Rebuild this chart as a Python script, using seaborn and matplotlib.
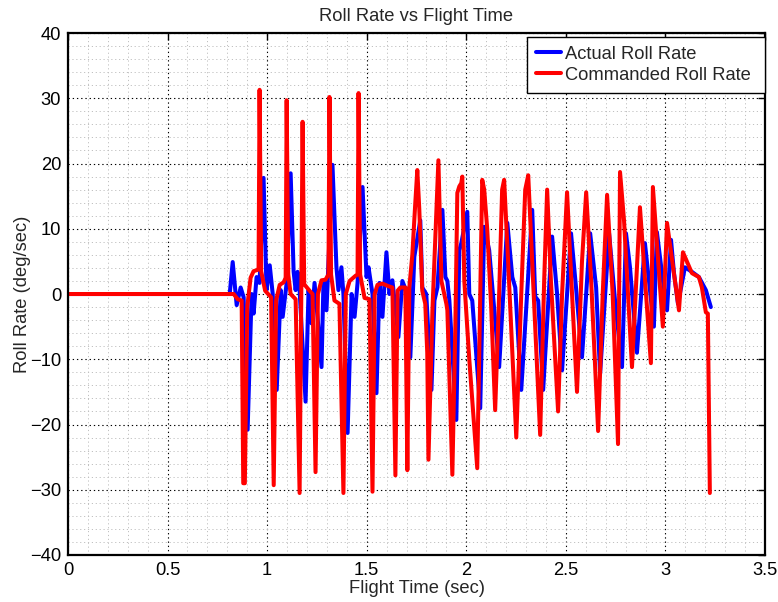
import matplotlib
matplotlib.use("Agg")
import matplotlib.pyplot as plt
from matplotlib.ticker import MultipleLocator, FixedLocator
import numpy as np
import pandas as pd
import seaborn as sns

# Commanded roll rate (deg/sec) against flight time (sec)
cmd_time = [0.0, 0.832, 0.852, 0.872, 0.880, 0.888, 0.900, 0.917, 0.932, 0.952,
            0.957, 0.962, 0.970, 0.990, 1.020, 1.033, 1.045, 1.063, 1.083, 1.093,
            1.098, 1.106, 1.118, 1.143, 1.163, 1.171, 1.178, 1.186, 1.213, 1.228,
            1.243, 1.255, 1.273, 1.293, 1.308, 1.313, 1.321, 1.338, 1.363, 1.383,
            1.395, 1.414, 1.444, 1.454, 1.459, 1.467, 1.489, 1.514, 1.529, 1.540,
            1.554, 1.579, 1.609, 1.629, 1.644, 1.655, 1.669, 1.694, 1.704, 1.714,
            1.729, 1.744, 1.754, 1.764, 1.779, 1.794, 1.804, 1.810, 1.830, 1.850,
            1.860, 1.875, 1.900, 1.905, 1.930, 1.945, 1.955, 1.965, 1.975, 1.980,
            1.990, 2.015, 2.055, 2.080, 2.090, 2.105, 2.125, 2.145, 2.165, 2.180,
            2.190, 2.210, 2.251, 2.276, 2.296, 2.311, 2.331, 2.371, 2.391, 2.406,
            2.425, 2.461, 2.481, 2.506, 2.531, 2.556, 2.581, 2.602, 2.627, 2.662,
            2.685, 2.707, 2.735, 2.762, 2.772, 2.792, 2.832, 2.872, 2.927, 2.937,
            2.987, 3.008, 3.068, 3.088, 3.133, 3.168, 3.183, 3.203, 3.213, 3.223]
cmd_rate = [0.0, 0.0, -0.8, -1.0, -29.0, -29.0, -2.0, 2.5, 3.5, 3.7,
            4.0, 31.3, 3.5, 0.5, -0.5, -29.3, -1.0, 1.4, 1.8, 2.5,
            29.7, 3.0, 0.0, -0.8, -30.5, -2.0, 26.4, 1.5, 0.5, 0.0,
            -27.3, 0.0, 2.1, 2.2, 3.0, 30.2, 3.0, -1.0, -1.5, -30.5,
            0.0, 2.0, 2.8, 3.0, 30.8, 3.0, -0.6, -0.8, -30.3, 0.0,
            1.4, 1.6, 1.2, 1.0, -27.8, 0.5, 1.0, 1.0, -27.0, 1.0,
            6.0, 14.0, 19.0, 13.0, 0.5, -1.5, -9.0, -25.4, -2.5, 13.0,
            20.5, 2.0, -1.5, -2.5, -27.7, -5.0, 15.5, 16.5, 17.0, 18.0,
            2.0, -10.0, -26.7, 17.5, 16.0, 10.0, -2.0, -17.8, 0.0, 16.0,
            17.5, 5.0, -22.0, 0.0, 16.0, 18.2, 5.0, -21.6, 2.0, 16.0,
            2.0, -18.0, 0.0, 15.6, 0.0, -15.0, 5.0, 15.6, 2.0, -21.0,
            0.0, 15.2, 0.0, -23.0, 18.7, 11.3, -11.2, 13.3, -10.6, 16.4,
            -5.0, 10.9, -2.5, 6.4, 3.2, 2.6, 1.0, -2.8, -3.0, -30.5]

# Measured roll rate (deg/sec) against flight time (sec)
act_time = [0.0, 0.812, 0.827, 0.847, 0.867, 0.882, 0.902, 0.922, 0.932, 0.947,
            0.962, 0.982, 0.997, 1.013, 1.028, 1.048, 1.068, 1.078, 1.098, 1.118,
            1.133, 1.143, 1.153, 1.163, 1.193, 1.208, 1.223, 1.238, 1.253, 1.273,
            1.283, 1.298, 1.328, 1.348, 1.358, 1.373, 1.383, 1.404, 1.424, 1.439,
            1.454, 1.479, 1.499, 1.509, 1.529, 1.549, 1.564, 1.579, 1.599, 1.614,
            1.629, 1.659, 1.679, 1.704, 1.719, 1.739, 1.769, 1.779, 1.799, 1.825,
            1.840, 1.855, 1.880, 1.895, 1.905, 1.915, 1.950, 1.965, 1.975, 2.005,
            2.015, 2.030, 2.070, 2.090, 2.115, 2.165, 2.206, 2.231, 2.246, 2.276,
            2.331, 2.346, 2.361, 2.386, 2.431, 2.456, 2.481, 2.526, 2.551, 2.581,
            2.622, 2.652, 2.672, 2.717, 2.747, 2.782, 2.802, 2.822, 2.857, 2.897,
            2.917, 2.942, 2.957, 2.987, 3.008, 3.028, 3.043, 3.063, 3.098, 3.133,
            3.168, 3.203, 3.228]
act_rate = [0.0, 0.0, 4.9, -1.7, 1.0, -0.5, -20.8, 0.0, -3.0, 2.6,
            1.7, 17.8, 0.6, 4.4, 0.0, -14.7, 0.6, -3.5, 1.7, 18.5,
            3.4, 0.6, 3.4, 0.6, -16.5, 0.6, -4.5, 1.7, -3.5, -11.2,
            2.0, -2.5, 19.8, 4.1, 0.6, 4.1, 0.0, -21.3, 0.0, -3.5,
            1.7, 16.4, 2.6, 4.1, 0.0, -15.2, 1.7, -3.5, 6.4, 0.0,
            2.1, -6.6, 2.0, 0.0, -9.7, 5.7, 11.3, 1.0, 0.0, -14.7,
            -1.0, 1.0, 12.9, 2.6, 2.0, -1.0, -19.3, 6.7, 7.8, 12.6,
            0.0, -1.0, -17.5, 10.3, 6.7, -11.2, 10.9, 2.6, 1.0, -14.7,
            12.9, -0.4, -1.0, -14.7, 8.8, 0.0, -11.7, 9.3, 1.0, -9.7,
            9.3, 1.0, -12.2, 9.3, -1.0, -11.2, 9.3, 4.1, -9.0, 7.8,
            2.1, -5.0, 9.5, 2.1, -2.5, 8.3, 3.2, -1.5, 4.1, 3.4,
            2.6, 0.6, -2.0]

x_ticks = [0, 0.5, 1, 1.5, 2, 2.5, 3, 3.5]
x_tick_labels = ["0", "0.5", "1", "1.5", "2", "2.5", "3", "3.5"]
y_ticks = [-40, -30, -20, -10, 0, 10, 20, 30, 40]

sns.set_style("white")
plt.rcParams["font.family"] = ["Liberation Sans", "DejaVu Sans"]
plt.rcParams["font.size"] = 13.2
plt.rcParams["lines.solid_joinstyle"] = "round"
plt.rcParams["lines.solid_capstyle"] = "round"

fig = plt.figure(figsize=(7.78, 6.02), dpi=100)
ax = fig.add_axes([0.0874, 0.0781, 0.8959, 0.867])

actual = pd.DataFrame({"t": act_time, "rate": act_rate})
command = pd.DataFrame({"t": cmd_time, "rate": cmd_rate})

sns.lineplot(data=actual, x="t", y="rate", ax=ax, color="#0000ff", lw=2.9,
             estimator=None, sort=False, label="Actual Roll Rate ")
sns.lineplot(data=command, x="t", y="rate", ax=ax, color="#ff0000", lw=2.9,
             estimator=None, sort=False, label="Commanded Roll Rate ")
for line in ax.get_lines():
    line.set_solid_joinstyle("round")

ax.set_xlim(0, 3.5)
ax.set_ylim(-40, 40)
ax.xaxis.set_major_locator(FixedLocator(x_ticks))
ax.set_xticklabels(x_tick_labels)
ax.yaxis.set_major_locator(FixedLocator(y_ticks))
ax.xaxis.set_minor_locator(MultipleLocator(0.1))
ax.yaxis.set_minor_locator(MultipleLocator(2))

ax.grid(which="major", color="black", linestyle=(0, (1.2, 2.6)), linewidth=0.8)
ax.grid(which="minor", color="#c0c0c0", linestyle=(0, (1.2, 2.8)), linewidth=0.7)
ax.set_axisbelow(True)

ax.tick_params(which="major", direction="in", length=5, width=1,
               top=True, right=True, labelsize=13.2, pad=5, colors="black")
ax.tick_params(which="minor", direction="in", length=0, top=True, right=True)
for s in ax.spines.values():
    s.set_visible(True)
    s.set_color("black")
    s.set_linewidth(1.6)

ax.set_title("Roll Rate vs Flight Time", fontsize=13.2, pad=9)
ax.set_xlabel("Flight Time (sec)", fontsize=13.2, labelpad=1)
ax.set_ylabel("Roll Rate (deg/sec)", fontsize=13.2, labelpad=-1)

leg = ax.legend(loc="upper right", bbox_to_anchor=(1.0, 0.993),
                borderaxespad=0, fontsize=13.2, frameon=True, fancybox=False,
                framealpha=1, edgecolor="black", borderpad=0.5,
                labelspacing=0.2, handlelength=1.35, handletextpad=0.2)
leg.get_frame().set_linewidth(1.0)

fig.savefig("out.png", dpi=100)
